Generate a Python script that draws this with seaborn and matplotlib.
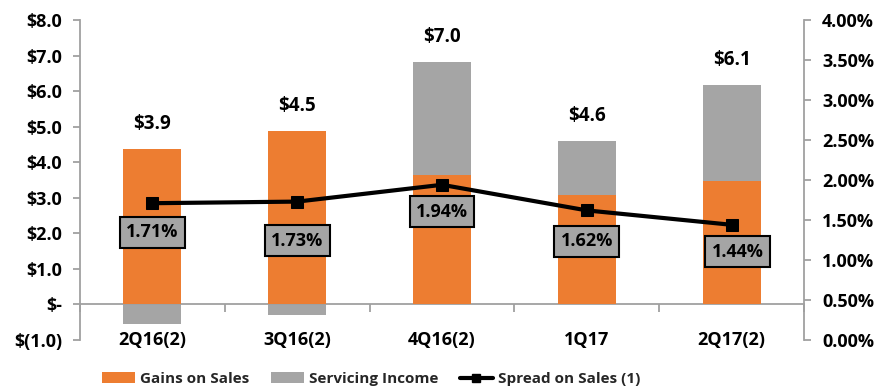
import numpy as np
import pandas as pd
import matplotlib
matplotlib.use("Agg")
import matplotlib.pyplot as plt
import seaborn as sns
from matplotlib.patches import Patch
from matplotlib.lines import Line2D
from matplotlib.ticker import FuncFormatter, FixedLocator

# ---- data ----
quarters = ["2Q16(2)", "3Q16(2)", "4Q16(2)", "1Q17", "2Q17(2)"]
gains_on_sales = [4.38, 4.89, 3.65, 3.09, 3.48]
servicing_income = [-0.56, -0.31, 3.18, 1.51, 2.70]
total_labels = [3.9, 4.5, 7.0, 4.6, 6.1]
spread_on_sales = [1.71, 1.73, 1.94, 1.62, 1.44]
left_ticks = [-1, 0, 1, 2, 3, 4, 5, 6, 7, 8]
right_ticks = [0, 0.5, 1.0, 1.5, 2.0, 2.5, 3.0, 3.5, 4.0]
legend_labels = ["Gains on Sales", "Servicing Income", "Spread on Sales (1)"]

# ---- style ----
ORANGE = "#ED7D31"
GRAY = "#A5A5A5"
AXIS = "#A0A0A0"
FONT = ["Open Sans", "DejaVu Sans"]
label_offsets = [(0, -29), (0, -39), (0, -27), (0, -31), (6, -27)]  # px

sns.set_theme(style="white")
plt.rcParams["font.family"] = FONT
plt.rcParams["font.weight"] = "bold"

DPI = 100
fig = plt.figure(figsize=(8.81, 3.90), dpi=DPI)
ax = fig.add_axes([80 / 881, 50 / 390, 724 / 881, 320 / 390])

df = pd.DataFrame({"quarter": quarters, "gains": gains_on_sales, "serv": servicing_income})
df["gray_height"] = np.where(df["serv"] > 0, df["gains"] + df["serv"], df["serv"])
df["top"] = np.where(df["serv"] > 0, df["gains"] + df["serv"], df["gains"])

sns.barplot(data=df, x="quarter", y="gray_height", color=GRAY, saturation=1,
            width=0.4, errorbar=None, ax=ax, zorder=2, linewidth=0, edgecolor="none")
sns.barplot(data=df, x="quarter", y="gains", color=ORANGE, saturation=1,
            width=0.4, errorbar=None, ax=ax, zorder=3, linewidth=0, edgecolor="none")

ax.set_xlim(-0.5, len(quarters) - 0.5)
ax.set_ylim(-1, 8)
ax.set_xlabel("")
ax.set_ylabel("")

def dollar(v, pos=None):
    if abs(v) < 1e-9:
        return "$-"
    if v < 0:
        return f"$({abs(v):.1f})"
    return f"${v:.1f}"

ax.yaxis.set_major_locator(FixedLocator(left_ticks))
ax.yaxis.set_major_formatter(FuncFormatter(dollar))

ax.spines["top"].set_visible(False)
ax.spines["right"].set_visible(False)
ax.spines["left"].set_color(AXIS)
ax.spines["left"].set_linewidth(1.3)
ax.spines["bottom"].set_position(("data", 0))
ax.spines["bottom"].set_color(AXIS)
ax.spines["bottom"].set_linewidth(1.3)

ax.tick_params(axis="y", which="major", direction="out", length=5, width=1.3,
               color=AXIS, left=True, labelsize=13, pad=8, labelcolor="black")
ax.set_xticks(range(len(quarters)))
ax.set_xticklabels(quarters)
ax.tick_params(axis="x", which="major", length=0, pad=19, labelsize=13, labelcolor="black")
ax.set_xticks(np.arange(-0.5, len(quarters), 1.0), minor=True)
ax.tick_params(axis="x", which="minor", direction="out", length=6, width=1.3,
               color=AXIS, bottom=True)
for lbl in ax.get_xticklabels() + ax.get_yticklabels():
    lbl.set_fontweight("bold")

# total labels
for i, (t, top) in enumerate(zip(total_labels, df["top"])):
    ax.annotate(f"${t:.1f}", xy=(i, top), xytext=(0, 25 * 72 / DPI),
                textcoords="offset points", ha="center", va="center",
                fontsize=13.5, fontweight="bold", color="black")

# secondary axis
ax2 = ax.twinx()
x = np.arange(len(quarters))
sns.lineplot(x=x, y=spread_on_sales, ax=ax2, color="black", lw=3,
             marker="s", markersize=8.5, markeredgecolor="black", legend=False)
ax2.set_ylim(0, 4)
ax2.yaxis.set_major_locator(FixedLocator(right_ticks))
ax2.yaxis.set_major_formatter(FuncFormatter(lambda v, p: f"{v:.2f}%"))
for side in ["top", "bottom", "left"]:
    ax2.spines[side].set_visible(False)
ax2.spines["right"].set_color(AXIS)
ax2.spines["right"].set_linewidth(1.3)
ax2.tick_params(axis="y", direction="out", length=5, width=1.3, color=AXIS,
                right=True, labelsize=13, pad=8, labelcolor="black")
for lbl in ax2.get_yticklabels():
    lbl.set_fontweight("bold")
ax2.set_ylabel("")

for i, (v, off) in enumerate(zip(spread_on_sales, label_offsets)):
    ax2.annotate(f"{v:.2f}%", xy=(i, v),
                 xytext=(off[0] * 72 / DPI, off[1] * 72 / DPI),
                 textcoords="offset points", ha="center", va="center",
                 fontsize=13, fontweight="bold", color="black",
                 bbox=dict(boxstyle="square,pad=0.35", fc=GRAY, ec="black", lw=1.5))

handles = [Patch(facecolor=ORANGE, edgecolor="none"),
           Patch(facecolor=GRAY, edgecolor="none"),
           Line2D([0], [0], color="black", lw=3, marker="s", markersize=6)]
fig.legend(handles, legend_labels, loc="center left", bbox_to_anchor=(0.1, 0.028),
           ncol=3, frameon=False, handlelength=2.2, handleheight=0.7,
           columnspacing=1.4, handletextpad=0.3,
           prop={"family": FONT, "weight": "bold", "size": 11})

fig.savefig("out.png", dpi=DPI)
